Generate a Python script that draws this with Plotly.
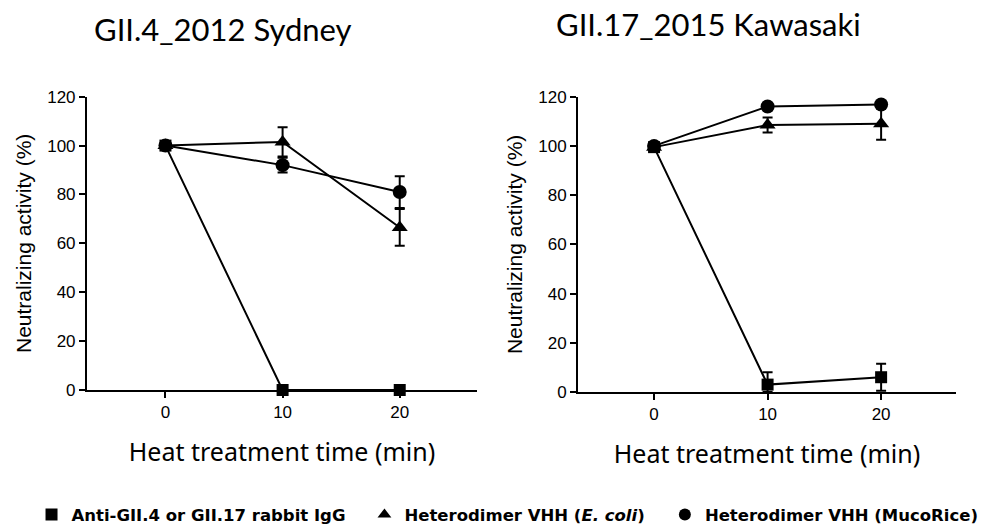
import plotly.graph_objects as go

# ---------------- data ----------------
time_min = [0, 10, 20]

# GII.4_2012 Sydney
syd_igg = [100, 0, 0]
syd_igg_err = [0, 0, 0]
syd_ecoli = [100, 101.5, 66.5]
syd_ecoli_err = [0, 6, 7.5]
syd_muco = [100, 92, 81]
syd_muco_err = [1, 3, 6.5]

# GII.17_2015 Kawasaki
kaw_igg = [99.5, 3, 6]
kaw_igg_err = [0, 5, 5.5]
kaw_ecoli = [99.5, 108.5, 109]
kaw_ecoli_err = [0, 3, 6.5]
kaw_muco = [100, 116, 116.8]
kaw_muco_err = [1, 1, 1.5]

panel_titles = ["GII.4_2012 Sydney", "GII.17_2015 Kawasaki"]
series_names = ["<b>Anti-GII.4 or GII.17 rabbit IgG</b>",
                "<b>Heterodimer VHH (<i>E. coli</i>)</b>",
                "<b>Heterodimer VHH (MucoRice)</b>"]
symbols = ["square", "triangle-up", "circle"]
y_ticks = [0, 20, 40, 60, 80, 100, 120]
x_ticks = [0, 10, 20]
x_title = "Heat treatment time (min)"
y_title = "Neutralizing activity (%)"

# ---------------- figure ----------------
fig = go.Figure()
BLACK = "#000000"
marker_sizes = {"square": 12, "triangle-up": 14, "circle": 14}

panels = [
    ("x", "y", [(syd_igg, syd_igg_err), (syd_ecoli, syd_ecoli_err), (syd_muco, syd_muco_err)]),
    ("x2", "y2", [(kaw_igg, kaw_igg_err), (kaw_ecoli, kaw_ecoli_err), (kaw_muco, kaw_muco_err)]),
]

for xa, ya, series in panels:
    for (vals, errs), sym in zip(series, symbols):
        minus = [min(e, v) for e, v in zip(errs, vals)]
        fig.add_trace(go.Scatter(
            x=time_min, y=vals, xaxis=xa, yaxis=ya, mode="lines+markers",
            line=dict(color=BLACK, width=2),
            marker=dict(symbol=sym, size=marker_sizes[sym], color=BLACK),
            error_y=dict(type="data", array=errs, arrayminus=minus, color=BLACK,
                         thickness=2, width=5, visible=True),
            cliponaxis=False, showlegend=False, hoverinfo="x+y"))

# legend-only traces, one legend each for precise placement
legend_ids = ["legend", "legend2", "legend3"]
for name, sym, lid in zip(series_names, symbols, legend_ids):
    fig.add_trace(go.Scatter(
        x=[None], y=[None], mode="markers", name=name, legend=lid,
        marker=dict(symbol=sym, size=16, color=BLACK), showlegend=True))

legend_font = dict(family="DejaVu Sans, Open Sans, sans-serif", size=16.5, color=BLACK)
leg_common = dict(font=legend_font, bgcolor="rgba(0,0,0,0)", borderwidth=0,
                  orientation="h", yanchor="middle", y=0.027, xanchor="left",
                  itemsizing="constant")

tick_font = dict(family="Liberation Sans, Arial, sans-serif", size=17, color=BLACK)
ytitle_font = dict(family="Liberation Sans, Arial, sans-serif", size=21, color=BLACK)
xtitle_font = dict(family="Noto Sans, Open Sans, sans-serif", size=25, color=BLACK)

def xaxis_cfg(domain):
    return dict(domain=domain, range=[-6.7, 26.6], tickmode="array", tickvals=x_ticks,
                ticks="outside", ticklen=6, tickwidth=2, tickcolor=BLACK,
                showline=True, linecolor=BLACK, linewidth=2, showgrid=False,
                zeroline=False, tickfont=tick_font, automargin=False,
                title=dict(text=x_title, font=xtitle_font, standoff=22))

def yaxis_cfg(domain, anchor):
    return dict(domain=domain, range=[0, 120], tickmode="array", tickvals=y_ticks,
                ticks="outside", ticklen=6, tickwidth=2, tickcolor=BLACK,
                showline=True, linecolor=BLACK, linewidth=2, showgrid=False,
                zeroline=False, tickfont=tick_font, anchor=anchor, automargin=False,
                title=dict(text=y_title, font=ytitle_font, standoff=10))

fig.update_layout(
    width=985, height=529, margin=dict(l=0, r=0, t=0, b=0, autoexpand=False),
    paper_bgcolor="white", plot_bgcolor="white",
    xaxis=dict(**xaxis_cfg([0.0883, 0.4843]), anchor="y"),
    yaxis=yaxis_cfg([0.2628, 0.8172], "x"),
    xaxis2=dict(**xaxis_cfg([0.5868, 0.9706]), anchor="y2"),
    yaxis2=yaxis_cfg([0.2590, 0.8172], "x2"),
    legend=dict(**leg_common, x=0.032),
    legend2=dict(**leg_common, x=0.370),
    legend3=dict(**leg_common, x=0.675),
    showlegend=True,
)

title_font = dict(family="Lato, Open Sans, sans-serif", size=31, color=BLACK)
fig.add_annotation(text=panel_titles[0], xref="paper", yref="paper", x=0.226, y=0.946,
                   xanchor="center", yanchor="middle", showarrow=False, font=title_font)
fig.add_annotation(text=panel_titles[1], xref="paper", yref="paper", x=0.719, y=0.955,
                   xanchor="center", yanchor="middle", showarrow=False, font=title_font)

fig.write_html("out.html", config={"displayModeBar": False},
               post_script="document.body.style.margin='0px';document.body.style.overflow='hidden';")
